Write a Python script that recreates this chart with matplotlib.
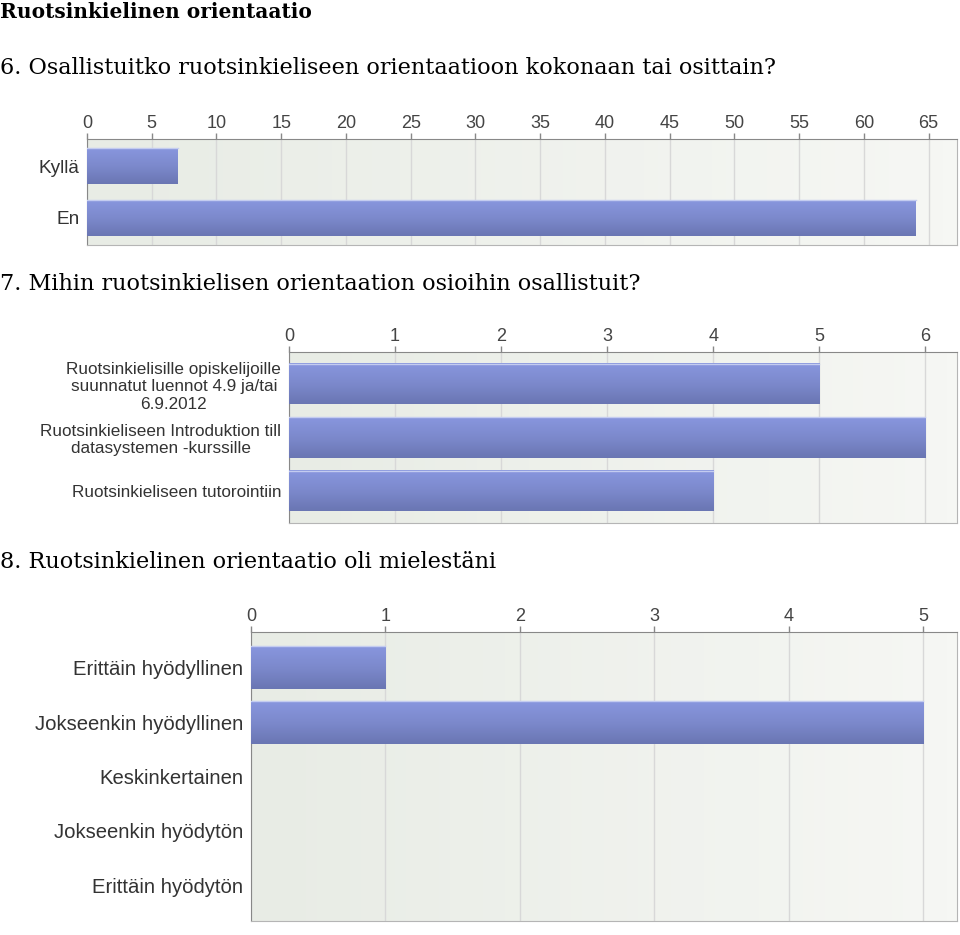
import matplotlib
matplotlib.use("Agg")
import matplotlib.pyplot as plt
import numpy as np
from matplotlib.colors import LinearSegmentedColormap

# data
q6_labels = ["Kyllä", "En"]
q6_values = [7, 64]
q6_ticks = list(range(0, 70, 5))

q7_labels = ["Ruotsinkielisille opiskelijoille\nsuunnatut luennot 4.9 ja/tai\n6.9.2012",
             "Ruotsinkieliseen Introduktion till\ndatasystemen -kurssille",
             "Ruotsinkieliseen tutorointiin"]
q7_values = [5, 6, 4]
q7_ticks = list(range(0, 7))

q8_labels = ["Erittäin hyödyllinen", "Jokseenkin hyödyllinen", "Keskinkertainen",
             "Jokseenkin hyödytön", "Erittäin hyödytön"]
q8_values = [1, 5, 0, 0, 0]
q8_ticks = list(range(0, 6))

W, H = 960, 935
fig = plt.figure(figsize=(W / 100, H / 100), dpi=100)

bar_cmap = LinearSegmentedColormap.from_list("bar", ["#6a76b3", "#7c89cc", "#8896de"])
bg_cmap = LinearSegmentedColormap.from_list("bg", ["#e8ece5", "#f6f7f4"])
sans = "Liberation Sans"


def px_rect(left, top, right, bottom):
    return [left / W, 1 - bottom / H, (right - left) / W, (bottom - top) / H]


def draw_chart(rect, labels, values, ticks, xmax, bar_h, margin, label_size):
    ax = fig.add_axes(rect)
    n = len(labels)
    y = np.arange(n)[::-1]
    bars = ax.barh(y, values, height=bar_h, color="#7a86c8", zorder=2)
    grad = np.linspace(0, 1, 64).reshape(-1, 1)
    for b in bars:
        if b.get_width() > 0:
            x0, y0 = b.get_x(), b.get_y()
            ax.imshow(grad, extent=(x0, x0 + b.get_width(), y0, y0 + b.get_height()),
                      origin="lower", aspect="auto", cmap=bar_cmap, zorder=3)
            ax.plot([x0, x0 + b.get_width()], [y0 + b.get_height()] * 2,
                    color="#c4ccf0", lw=1, zorder=4)
    bg = np.linspace(0, 1, 64).reshape(1, -1)
    ax.imshow(bg, extent=(0, 1, 0, 1), transform=ax.transAxes, aspect="auto",
              cmap=bg_cmap, zorder=0)
    ax.set_xlim(0, xmax)
    ax.set_ylim(-margin, n - 1 + margin)
    ax.set_xticks(ticks)
    ax.set_yticks(y)
    ax.set_yticklabels(labels, fontsize=label_size, color="#333333", family=sans,
                       multialignment="center")
    ax.xaxis.tick_top()
    ax.tick_params(axis="x", direction="out", length=4, width=1, color="#888888",
                   labelsize=13, labelcolor="#444444", pad=1)
    for lab in ax.get_xticklabels():
        lab.set_family(sans)
    ax.tick_params(axis="y", length=0, pad=5.5)
    ax.grid(axis="x", color="#d8d8d8", lw=1, zorder=1)
    ax.set_axisbelow(True)
    ax.spines["top"].set_color("#888888")
    ax.spines["left"].set_color("#888888")
    ax.spines["right"].set_color("#b5b5b5")
    ax.spines["bottom"].set_color("#b5b5b5")
    return ax


serif = "DejaVu Serif"
fig.text(0 / W, 1 - 12 / H, "Ruotsinkielinen orientaatio", fontsize=14.5, weight="bold",
         family=serif, va="center", ha="left")
fig.text(0 / W, 1 - 68 / H, "6. Osallistuitko ruotsinkieliseen orientaatioon kokonaan tai osittain?",
         fontsize=16.15, family=serif, va="center", ha="left")
fig.text(0 / W, 1 - 284 / H, "7. Mihin ruotsinkielisen orientaation osioihin osallistuit?",
         fontsize=16.15, family=serif, va="center", ha="left")
fig.text(0 / W, 1 - 562 / H, "8. Ruotsinkielinen orientaatio oli mielestäni",
         fontsize=16.15, family=serif, va="center", ha="left")

draw_chart(px_rect(87, 139, 957, 245), q6_labels, q6_values, q6_ticks, 67.2, 0.69, 0.52, 13.7)
draw_chart(px_rect(289, 352, 957, 523), q7_labels, q7_values, q7_ticks, 6.3, 0.75, 0.6, 12.3)
draw_chart(px_rect(251, 632, 957, 921), q8_labels, q8_values, q8_ticks, 5.25, 0.79, 0.66, 14.6)

fig.savefig("out.png", dpi=100)
